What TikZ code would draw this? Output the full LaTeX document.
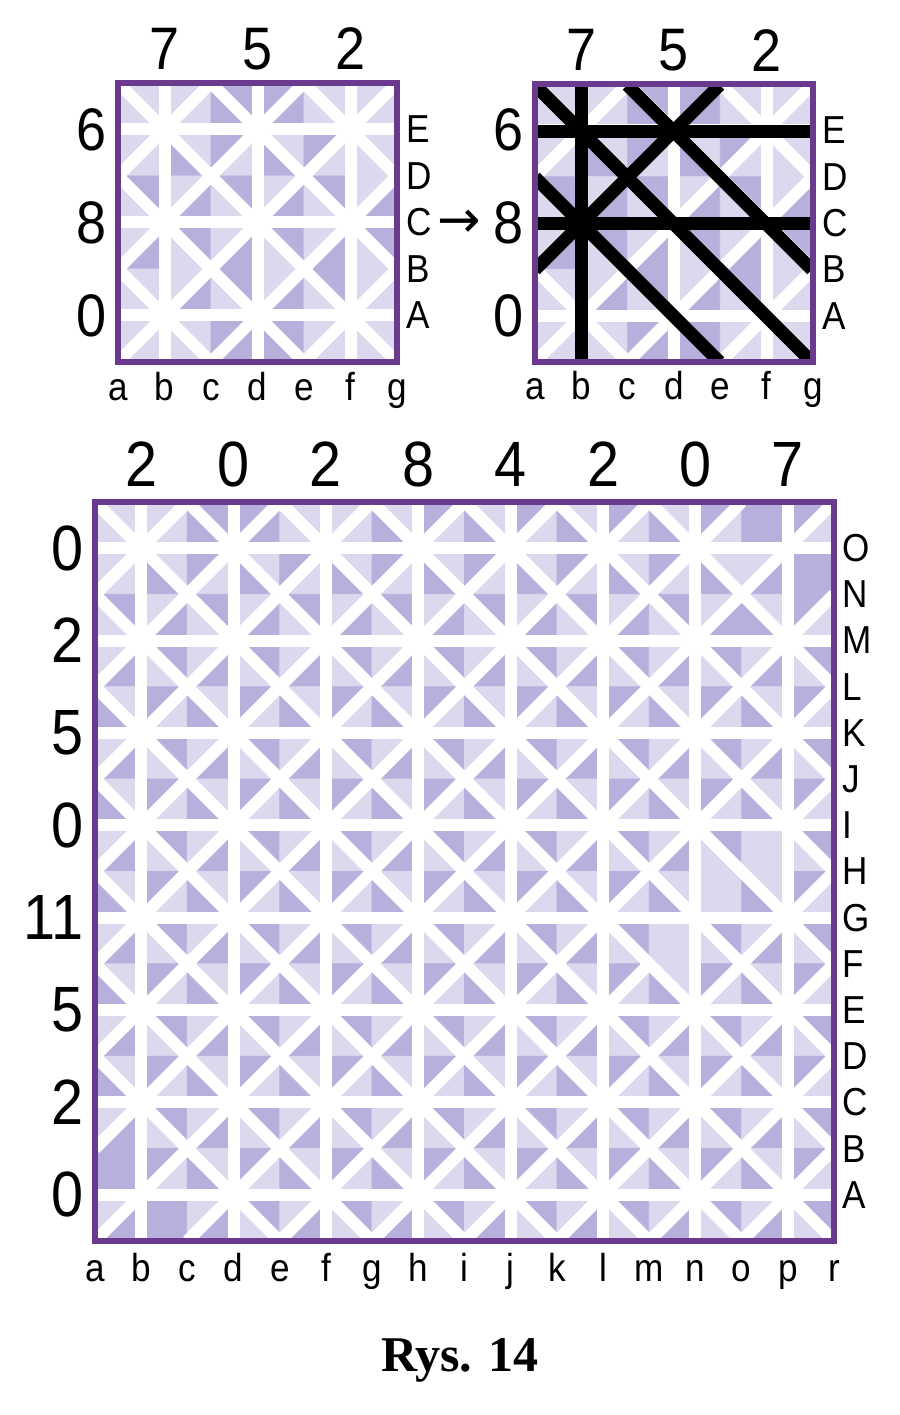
\documentclass[tikz,border=0pt]{standalone}
\usepackage{fontspec}
\newfontfamily\lab{Liberation Sans}[FakeStretch=0.9]
\newfontfamily\arr{DejaVu Sans}
\newfontfamily\capf{Liberation Serif}
\definecolor{cL}{HTML}{DCD8EE}
\definecolor{cD}{HTML}{B8B0DC}
\definecolor{cW}{HTML}{E8E5F4}
\definecolor{frm}{HTML}{6B3A8E}
\tikzset{
  wl/.style={white, line width=6pt},
  bl/.style={black, line width=6.5pt},
  frmline/.style={frm, line width=2.7pt},
  dig/.style={font=\lab\fontsize{30}{30}\selectfont, inner sep=0pt},
  bigdig/.style={font=\lab\fontsize{32}{32}\selectfont, inner sep=0pt},
  let/.style={font=\lab\fontsize{19.5}{19.5}\selectfont, inner sep=0pt},
}
\def\xflag{x}
\def\gcell#1#2#3\relax{%
  \pgfmathtruncatemacro\pp{mod(\k+\m,2)}%
  \ifnum\pp=0
    \filldraw[fill=c#1,draw=c#1,line width=0.4pt] (\k,\m) -- (\k,\m+1) -- (\k+1,\m+1) -- cycle;
    \filldraw[fill=c#2,draw=c#2,line width=0.4pt] (\k,\m) -- (\k+1,\m) -- (\k+1,\m+1) -- cycle;
  \else
    \filldraw[fill=c#1,draw=c#1,line width=0.4pt] (\k,\m+1) -- (\k+1,\m+1) -- (\k+1,\m) -- cycle;
    \filldraw[fill=c#2,draw=c#2,line width=0.4pt] (\k,\m+1) -- (\k,\m) -- (\k+1,\m) -- cycle;
  \fi}
\def\gdiag#1#2#3\relax{%
  \def\tmpf{#3}%
  \ifx\tmpf\xflag\else
    \pgfmathtruncatemacro\pp{mod(\k+\m,2)}%
    \ifnum\pp=0 \draw[wl] (\k,\m) -- (\k+1,\m+1);
    \else \draw[wl] (\k,\m+1) -- (\k+1,\m);\fi
  \fi}
\newcommand\gridfill[2]{%
  \foreach \row [count=\r from 0] in #2 {%
    \pgfmathtruncatemacro\m{#1-1-\r}%
    \foreach \c [count=\k from 0] in \row {\expandafter\gcell\c\relax}}}
\newcommand\griddiag[2]{%
  \foreach \row [count=\r from 0] in #2 {%
    \pgfmathtruncatemacro\m{#1-1-\r}%
    \foreach \c [count=\k from 0] in \row {\expandafter\gdiag\c\relax}}}
\def\GA{{LL,LL,DD,DD,LL,LL},{LL,LD,DL,LD,DL,LL},{DL,LD,DL,LD,DL,LD},{LD,DL,LD,DL,LD,DL},{LL,LD,DL,LD,DL,LL},{LL,LL,DD,DD,LL,LL}}
\def\GB{%
{LL,LL,DD,DD,LL,LL,LD,DL,LD,DL,LD,DL,LD,DL,DDx,DL},%
{LL,LD,DL,LD,DL,LD,DL,LD,DL,LD,DL,LD,DL,LD,LD,DDx},%
{DL,LD,DL,LD,DL,LD,DL,LD,DL,LD,DL,LD,DL,LD,LD,DL},%
{LD,DL,LD,DL,LD,DL,LD,DL,LD,DL,LD,DL,LD,DL,LD,DL},%
{LD,DL,LD,DL,LD,DL,LD,DL,LD,DL,LD,DL,LD,DL,LD,DL},%
{LD,DL,LD,DL,LD,DL,LD,DL,LD,DL,LD,DL,LD,DL,LD,DL},%
{LD,DL,LD,DL,LD,DL,LD,DL,LD,DL,LD,DL,LD,DL,LD,DL},%
{LD,DL,LD,DL,LD,DL,LD,DL,LD,DL,LD,DL,LD,DL,LLx,DL},%
{LD,DL,LD,DL,LD,DL,LD,DL,LD,DL,LD,DL,LD,LLx,LD,DL},%
{LD,DL,LD,DL,LD,DL,LD,DL,LD,DL,LD,DL,LLx,DL,LD,DL},%
{LD,DL,LD,DL,LD,DL,LD,DL,LD,DL,LD,DL,LD,DL,LD,DL},%
{LD,DL,LD,DL,LD,DL,LD,DL,LD,DL,LD,DL,LD,DL,LD,DL},%
{LD,DL,LD,DL,LD,DL,LD,DL,LD,DL,LD,DL,LD,DL,LD,DL},%
{LD,DL,LD,DL,LD,DL,LD,DL,LD,DL,LD,DL,LD,DL,LD,DL},%
{DDx,DL,LD,DL,LD,DL,LD,DL,LD,DL,LD,DL,LD,DL,LD,DL},%
{LD,DDx,LD,DL,LD,DL,LD,DL,LD,DL,LD,DL,LD,DL,LD,DL}}
\begin{document}
\begin{tikzpicture}[x=0.5pt,y=0.5pt]
\useasboundingbox (0,0) rectangle (900,1415);
\fill[white] (0,0) rectangle (900,1415);
% ---------- grid 1
\begin{scope}[shift={(118,1053)}, scale=46.5]
  \gridfill{6}{\GA}
  \begin{scope}
    \clip (0,0) rectangle (6,6);
    \griddiag{6}{\GA}
    \foreach \i in {1,3,5} {\draw[wl] (\i,0) -- (\i,6); \draw[wl] (0,\i) -- (6,\i);}
  \end{scope}
  \draw[frmline] (0,0) rectangle (6,6);
  \foreach \t [count=\n from 0] in {7,5,2} {\pgfmathtruncatemacro\xx{2*\n+1}\node[dig] (ta\n) at (\xx,6.73) {\t};}
  \foreach \t [count=\n from 0] in {0,8,6} {\pgfmathtruncatemacro\yy{2*\n+1}\node[dig,anchor=east] (la\n) at (-0.24,\yy) {\t};}
  \foreach \t [count=\n from 1] in {A,B,C,D,E} {\node[let,anchor=west] (ra\n) at (6.19,\n) {\t};}
  \foreach \t [count=\n from 0] in {a,b,c,d,e,f,g} {\node[let,anchor=base] (ba\n) at (\n,-0.82) {\t};}
\end{scope}
\node[font=\arr\fontsize{26}{26}\selectfont, inner sep=0pt] (arrow) at (459,1191) {→};
% ---------- grid 2
\begin{scope}[shift={(535,1053)}, scale=46.33]
  \gridfill{6}{\GA}
  \begin{scope}
    \clip (0,0) rectangle (6,6);
    \griddiag{6}{\GA}
    \foreach \i in {1,3,5} {\draw[wl] (\i,0) -- (\i,6); \draw[wl] (0,\i) -- (6,\i);}
    \coordinate (p1) at (1,0); \coordinate (p2) at (1,6);
    \coordinate (p3) at (0,5); \coordinate (p4) at (6,5);
    \coordinate (p5) at (0,3); \coordinate (p6) at (6,3);
    \coordinate (p7) at (0,4); \coordinate (p8) at (4,0);
    \coordinate (p9) at (0,6); \coordinate (p10) at (6,0);
    \coordinate (p11) at (2,6); \coordinate (p12) at (6,2);
    \coordinate (p13) at (0,2); \coordinate (p14) at (4,6);
    \draw[bl] (p1) -- (p2); \draw[bl] (p3) -- (p4); \draw[bl] (p5) -- (p6);
    \draw[bl] (p7) -- (p8); \draw[bl] (p9) -- (p10); \draw[bl] (p11) -- (p12);
    \draw[bl] (p13) -- (p14);
  \end{scope}
  \draw[frmline] (0,0) rectangle (6,6);
  \foreach \t [count=\n from 0] in {7,5,2} {\pgfmathtruncatemacro\xx{2*\n+1}\node[dig] (tb\n) at (\xx,6.73) {\t};}
  \foreach \t [count=\n from 0] in {0,8,6} {\pgfmathtruncatemacro\yy{2*\n+1}\node[dig,anchor=east] (lb\n) at (-0.24,\yy) {\t};}
  \foreach \t [count=\n from 1] in {A,B,C,D,E} {\node[let,anchor=west] (rb\n) at (6.19,\n) {\t};}
  \foreach \t [count=\n from 0] in {a,b,c,d,e,f,g} {\node[let,anchor=base] (bb\n) at (\n,-0.82) {\t};}
\end{scope}
% ---------- big grid
\begin{scope}[shift={(95,174)}, scale=46.19]
  \gridfill{16}{\GB}
  \begin{scope}
    \clip (0,0) rectangle (16,16);
    \griddiag{16}{\GB}
    \foreach \i in {1,3,...,15} {\draw[wl] (\i,0) -- (\i,16); \draw[wl] (0,\i) -- (16,\i);}
  \end{scope}
  \draw[frmline] (0,0) rectangle (16,16);
  \foreach \t [count=\n from 0] in {2,0,2,8,4,2,0,7} {\pgfmathtruncatemacro\xx{2*\n+1}\node[bigdig] (tc\n) at (\xx,16.82) {\t};}
  \foreach \t [count=\n from 0] in {0,2,5,11,0,5,2,0} {\pgfmathtruncatemacro\yy{2*\n+1}\node[bigdig,anchor=east] (lc\n) at (-0.24,\yy) {\t};}
  \foreach \t [count=\n from 1] in {A,B,C,D,E,F,G,H,I,J,K,L,M,N,O} {\node[let,anchor=west] (rc\n) at (16.17,\n) {\t};}
  \foreach \t [count=\n from 0] in {a,b,c,d,e,f,g,h,i,j,k,l,m,n,o,p,r} {\node[let,anchor=base] (bc\n) at (\n,-0.87) {\t};}
\end{scope}
\node[font=\capf\bfseries\fontsize{25}{25}\selectfont, inner sep=0pt] (caption) at (460,55) {Rys. 14};
\end{tikzpicture}
\end{document}
